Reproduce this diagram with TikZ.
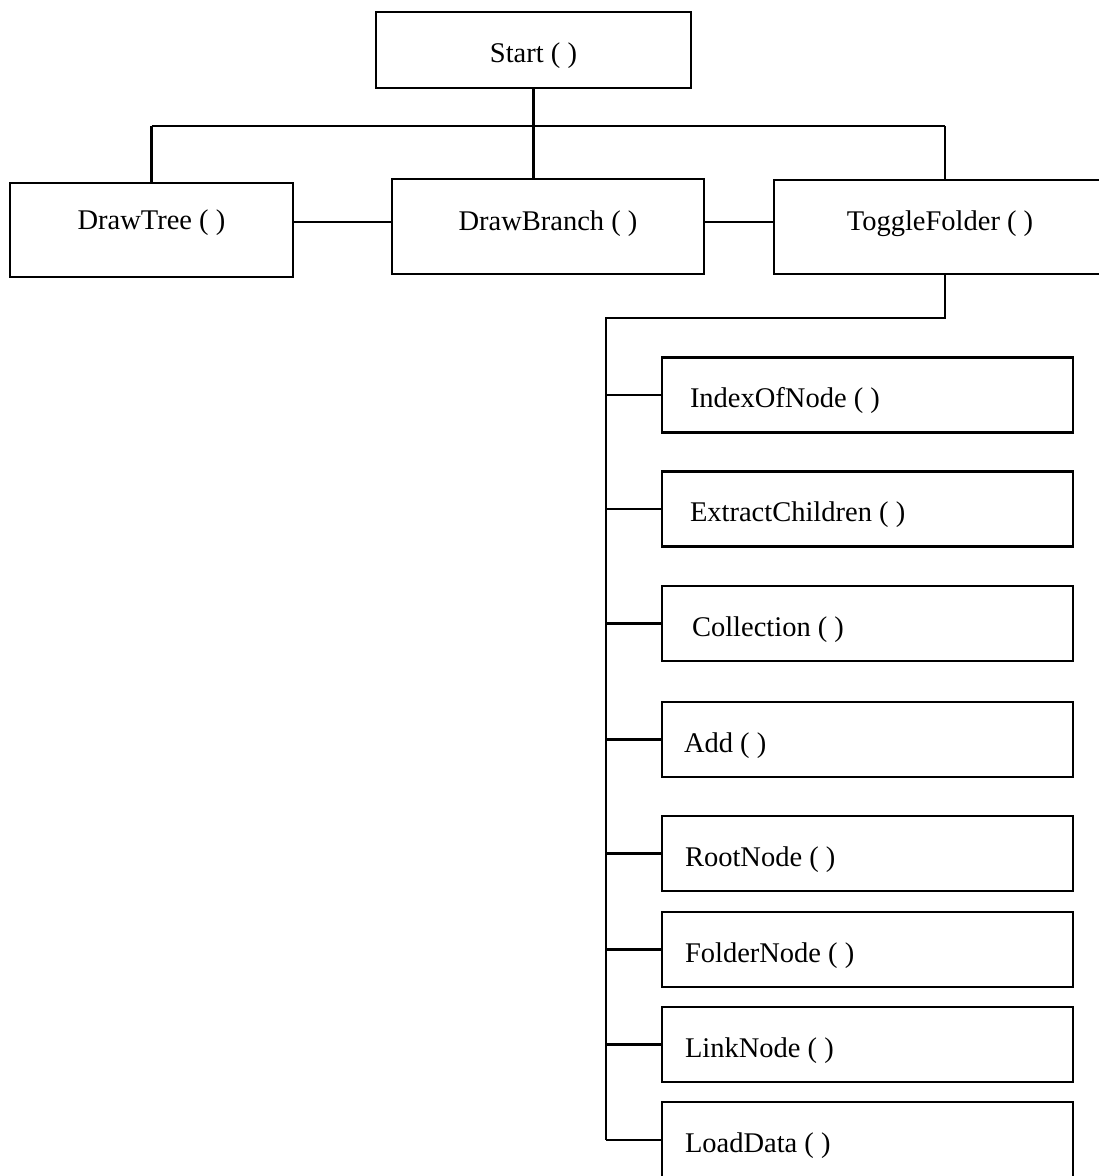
\documentclass[tikz,border=0pt]{standalone}
\usepackage{fontspec}
\setmainfont{Liberation Serif}
\usetikzlibrary{calc}
\newcommand{\lbl}[2]{\makebox[363pt][l]{\hspace*{#1pt}\raisebox{-5.5pt}{#2}}}
\begin{document}
\begin{tikzpicture}[x=1pt,y=-1pt,
  box/.style={draw=black, line width=2.4pt, rectangle, inner sep=0pt,
    text height=20pt, text depth=6pt,
    font=\fontsize{28.5}{31}\selectfont, text=black},
  topbox/.style={box},
  childbox/.style={box, minimum width=411pt, minimum height=75pt},
  conn/.style={draw=black, line width=2.4pt}
]
\fill[white] (0,0) rectangle (1099,1176);
\clip (0,0) rectangle (1099,1176);
% top level
\node[topbox, minimum width=315pt, minimum height=76pt] (start) at (533.5,50) {\raisebox{-5.5pt}{Start ( )}};
\node[topbox, minimum width=283pt, minimum height=94pt] (dt) at (151.5,230) {\raisebox{8pt}{DrawTree ( )}};
\node[topbox, minimum width=312pt, minimum height=95pt] (db) at (548,226.5) {\raisebox{3pt}{DrawBranch ( )}};
\node[topbox, minimum width=332pt, minimum height=94pt] (tf) at (940,227) {\raisebox{3.5pt}{ToggleFolder ( )}};
% children
\node[childbox] (c1) at (867.5,395) {\lbl{4}{IndexOfNode ( )}};
\node[childbox] (c2) at (867.5,509) {\lbl{4}{ExtractChildren ( )}};
\node[childbox] (c3) at (867.5,623.5) {\lbl{6}{Collection ( )}};
\node[childbox] (c4) at (867.5,739.5) {\lbl{-2}{Add ( )}};
\node[childbox] (c5) at (867.5,853.5) {\lbl{-1}{RootNode ( )}};
\node[childbox] (c6) at (867.5,949.5) {\lbl{-1}{FolderNode ( )}};
\node[childbox] (c7) at (867.5,1044.5) {\lbl{-1}{LinkNode ( )}};
\node[childbox, minimum height=76pt] (c8) at (867.5,1140) {\lbl{-1}{LoadData ( )}};
% helper coordinates
\coordinate (hbar) at (0,126);
\coordinate (lvl) at (0,222);
\coordinate (tfx) at (945,0);
\coordinate (busy) at (0,318);
\coordinate (busx) at (606,0);
% top connectors
\draw[conn] (start.south) -- (start.south |- db.north);
\draw[conn] (dt.north |- hbar) -- (tfx |- hbar);
\draw[conn] (dt.north |- hbar) -- (dt.north);
\draw[conn] (tfx |- hbar) -- (tfx |- tf.north);
\draw[conn] (dt.east |- lvl) -- (db.west |- lvl);
\draw[conn] (db.east |- lvl) -- (tf.west |- lvl);
% bus to children
\draw[conn] (tfx |- tf.south) -- (tfx |- busy) -- (busx |- busy) -- (busx |- c8.west);
\foreach \c in {c1,c2,c3,c4,c5,c6,c7,c8}{
  \draw[conn] (\c.west) -- (\c.west -| busx);
}
\end{tikzpicture}
\end{document}
